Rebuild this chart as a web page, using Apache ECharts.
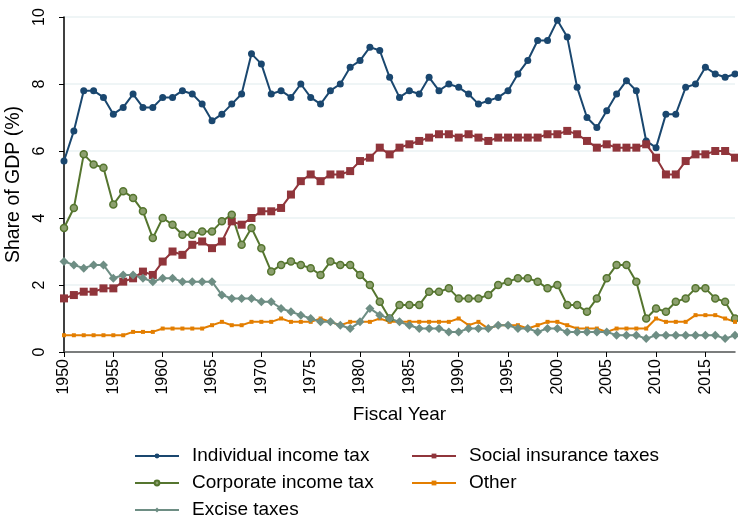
<!DOCTYPE html>
<html>
<head>
<meta charset="utf-8">
<script src="https://cdn.jsdelivr.net/npm/echarts@6/dist/echarts.min.js"></script>
<style>html,body{margin:0;padding:0;background:#fff}#c{width:738px;height:519px}</style>
</head>
<body>
<div id="c"></div>
<script>
var years = [];
for (var y = 1950; y <= 2018; y++) years.push(String(y));

var individual = [5.7,6.6,7.8,7.8,7.6,7.1,7.3,7.7,7.3,7.3,7.6,7.6,7.8,7.7,7.4,6.9,7.1,7.4,7.7,8.9,8.6,7.7,7.8,7.6,8.0,7.6,7.4,7.8,8.0,8.5,8.7,9.1,9.0,8.2,7.6,7.8,7.7,8.2,7.8,8.0,7.9,7.7,7.4,7.5,7.6,7.8,8.3,8.7,9.3,9.3,9.9,9.4,7.9,7.0,6.7,7.2,7.7,8.1,7.8,6.3,6.1,7.1,7.1,7.9,8.0,8.5,8.3,8.2,8.3];
var social = [1.6,1.7,1.8,1.8,1.9,1.9,2.1,2.2,2.4,2.3,2.7,3.0,2.9,3.2,3.3,3.1,3.3,3.9,3.8,4.0,4.2,4.2,4.3,4.7,5.1,5.3,5.1,5.3,5.3,5.4,5.7,5.8,6.1,5.9,6.1,6.2,6.3,6.4,6.5,6.5,6.4,6.5,6.4,6.3,6.4,6.4,6.4,6.4,6.4,6.5,6.5,6.6,6.5,6.3,6.1,6.2,6.1,6.1,6.1,6.2,5.8,5.3,5.3,5.7,5.9,5.9,6.0,6.0,5.8];
var corporate = [3.7,4.3,5.9,5.6,5.5,4.4,4.8,4.6,4.2,3.4,4.0,3.8,3.5,3.5,3.6,3.6,3.9,4.1,3.2,3.7,3.1,2.4,2.6,2.7,2.6,2.5,2.3,2.7,2.6,2.6,2.3,2.0,1.5,1.0,1.4,1.4,1.4,1.8,1.8,1.9,1.6,1.6,1.6,1.7,2.0,2.1,2.2,2.2,2.1,1.9,2.0,1.4,1.4,1.2,1.6,2.2,2.6,2.6,2.1,1.0,1.3,1.2,1.5,1.6,1.9,1.9,1.6,1.5,1.0];
var other = [0.5,0.5,0.5,0.5,0.5,0.5,0.5,0.6,0.6,0.6,0.7,0.7,0.7,0.7,0.7,0.8,0.9,0.8,0.8,0.9,0.9,0.9,1.0,0.9,0.9,0.9,1.0,0.9,0.8,0.9,0.9,0.9,1.0,0.9,0.9,0.9,0.9,0.9,0.9,0.9,1.0,0.8,0.9,0.7,0.8,0.8,0.8,0.7,0.8,0.9,0.9,0.8,0.7,0.7,0.7,0.6,0.7,0.7,0.7,0.7,1.0,0.9,0.9,0.9,1.1,1.1,1.1,1.0,0.9];
var excise = [2.7,2.6,2.5,2.6,2.6,2.2,2.3,2.3,2.2,2.1,2.2,2.2,2.1,2.1,2.1,2.1,1.7,1.6,1.6,1.6,1.5,1.5,1.3,1.2,1.1,1.0,0.9,0.9,0.8,0.7,0.9,1.3,1.1,1.0,0.9,0.8,0.7,0.7,0.7,0.6,0.6,0.7,0.7,0.7,0.8,0.8,0.7,0.7,0.6,0.7,0.7,0.6,0.6,0.6,0.6,0.6,0.5,0.5,0.5,0.4,0.5,0.5,0.5,0.5,0.5,0.5,0.5,0.4,0.5];

var FONT = 'Liberation Sans, Arial, sans-serif';
var chart = echarts.init(document.getElementById('c'), null, {renderer: 'canvas'});

function mk(name, data, color, symbol, size, extra) {
  var s = {
    name: name, type: 'line', data: data, symbol: symbol, symbolSize: size,
    showAllSymbol: true, animation: false,
    lineStyle: {color: color, width: 2},
    itemStyle: {color: color},
    emphasis: {disabled: true}
  };
  if (extra) for (var k in extra) s[k] = extra[k];
  return s;
}

function leg(name, left, top) {
  return {data: [name], left: left, top: top, padding: 0, itemWidth: 44, itemHeight: 6,
    textStyle: {fontFamily: FONT, fontSize: 19, color: '#000', lineHeight: 22, padding: [0, 0, 0, 8]},
    selectedMode: false};
}

chart.setOption({
  animation: false,
  color: ['#1a476f', '#90353b', '#55752f', '#e37e00', '#6e8e84'],
  grid: {left: 64, right: 3, top: 17, bottom: 167, containLabel: false, outerBoundsMode: 'none'},
  legend: [
    leg('Individual income tax', 134, 445),
    leg('Corporate income tax', 134, 472),
    leg('Excise taxes', 134, 499),
    leg('Social insurance taxes', 411, 445),
    leg('Other', 411, 472)
  ],
  xAxis: {
    type: 'category', data: years, boundaryGap: false,
    name: 'Fiscal Year', nameLocation: 'middle', nameGap: 53,
    nameTextStyle: {fontFamily: FONT, fontSize: 19, color: '#000'},
    axisLine: {lineStyle: {color: '#555', width: 1.5}},
    axisTick: {interval: 4, length: 5, lineStyle: {color: '#000'}},
    axisLabel: {interval: 4, rotate: 90, fontFamily: FONT, fontSize: 16, color: '#000', margin: 7},
    splitLine: {show: false}
  },
  yAxis: {
    type: 'value', min: 0, max: 10, interval: 2,
    name: 'Share of GDP (%)', nameLocation: 'middle', nameGap: 40, nameRotate: 90,
    nameTextStyle: {fontFamily: FONT, fontSize: 19.5, color: '#000'},
    axisLine: {show: true, lineStyle: {color: '#000', width: 1.5}},
    axisTick: {show: true, length: 5, lineStyle: {color: '#000'}},
    axisLabel: {rotate: 90, align: 'center', verticalAlign: 'bottom', fontFamily: FONT, fontSize: 16, color: '#000', margin: 16},
    splitLine: {show: true, lineStyle: {color: '#eaf2f3', width: 1.5}}
  },
  series: [
    mk('Individual income tax', individual, '#1a476f', 'circle', 7),
    mk('Social insurance taxes', social, '#90353b', 'rect', 8),
    mk('Corporate income tax', corporate, '#55752f', 'circle', 7,
       {itemStyle: {color: '#8ca06e', borderColor: '#55752f', borderWidth: 1.5}}),
    mk('Other', other, '#e37e00', 'rect', 4),
    mk('Excise taxes', excise, '#6e8e84', 'diamond', 9)
  ]
});
</script>
</body>
</html>
